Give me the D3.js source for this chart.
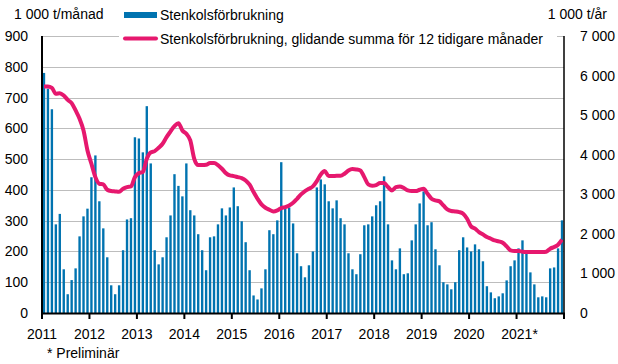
<!DOCTYPE html>
<html>
<head>
<meta charset="utf-8">
<script src="https://cdn.jsdelivr.net/npm/d3@7"></script>
<style>
  body { margin: 0; background: #fff; }
  text { font-family: "Liberation Sans", Arial, sans-serif; font-size: 14px; fill: #000; }
</style>
</head>
<body>
<div id="chart"></div>
<script>
// Monthly hard coal consumption, 1 000 t (Jan 2011 - Dec 2021)
var years = ["2011", "2012", "2013", "2014", "2015", "2016", "2017", "2018", "2019", "2020", "2021*"];

var monthly = [
  780, 729, 662, 288, 322, 142, 61, 107, 145, 249, 314, 339,   // 2011
  441, 512, 363, 275, 181, 90, 61, 90, 204, 304, 308, 571,     // 2012
  567, 522, 672, 486, 204, 158, 181, 246, 317, 451, 413, 379,  // 2013
  486, 334, 317, 256, 204, 139, 246, 249, 288, 340, 317, 343,  // 2014
  408, 347, 298, 230, 139, 57, 44, 80, 142, 269, 256, 301,     // 2015
  490, 340, 343, 291, 194, 152, 116, 155, 200, 408, 434, 418,  // 2016
  363, 340, 366, 308, 288, 194, 142, 126, 191, 285, 288, 314,  // 2017
  350, 363, 444, 288, 171, 142, 210, 126, 129, 236, 288, 356,  // 2018
  395, 285, 295, 207, 155, 100, 93, 77, 100, 204, 246, 213,    // 2019
  200, 223, 207, 168, 87, 67, 48, 54, 64, 106, 152, 171,       // 2020
  210, 236, 194, 132, 93, 51, 54, 51, 145, 148, 210, 301       // 2021
];

// Rolling 12-month sum, 1 000 t/year
var rolling = [
  5724, 5724, 5690, 5539, 5556, 5497, 5387, 5303, 5118, 4907, 4613, 4108,
  3771, 3434, 3266, 3249, 3114, 3081, 3072, 3064, 3140, 3182, 3199, 3434,
  3535, 3561, 3897, 4057, 4091, 4175, 4276, 4444, 4588, 4722, 4798, 4613,
  4529, 4360, 3897, 3737, 3737, 3746, 3788, 3788, 3737, 3645, 3535, 3476,
  3460, 3434, 3409, 3350, 3241, 3056, 2887, 2744, 2660, 2609, 2567, 2593,
  2652, 2677, 2719, 2786, 2887, 2997, 3081, 3140, 3199, 3333, 3502, 3586,
  3460, 3460, 3468, 3468, 3519, 3603, 3636, 3628, 3603, 3434, 3249, 3215,
  3232, 3283, 3283, 3182, 3098, 3182, 3199, 3157, 3098, 3081, 3081, 3114,
  3140, 3013, 2887, 2845, 2820, 2719, 2618, 2576, 2567, 2550, 2508, 2382,
  2189, 2130, 2045, 1987, 1919, 1877, 1835, 1810, 1776, 1684, 1582, 1566,
  1566, 1549, 1540, 1540, 1540, 1540, 1540, 1549, 1625, 1667, 1726, 1852
];

var leftTicks = [0, 100, 200, 300, 400, 500, 600, 700, 800, 900];
var rightTicks = [0, 1000, 2000, 3000, 4000, 5000, 6000, 7000];

var svgWidth = 618;
var svgHeight = 364;

var plot = { left: 42, right: 564, top: 36, bottom: 313 };

var svg = d3.select("#chart")
  .append("svg")
  .attr("width", svgWidth)
  .attr("height", svgHeight);

// Scales
var x = d3.scaleBand()
  .domain(d3.range(monthly.length))
  .range([plot.left, plot.right])
  .paddingInner(0.4)
  .paddingOuter(0.2);

var xYear = d3.scaleLinear()
  .domain([0, years.length])
  .range([plot.left, plot.right]);

var yLeft = d3.scaleLinear().domain([0, 900]).range([plot.bottom, plot.top]);
var yRight = d3.scaleLinear().domain([0, 7000]).range([plot.bottom, plot.top]);

var fmt = function(v) { return d3.format(",")(v).replace(/,/g, " "); };

// Gridlines
svg.append("g")
  .selectAll("line")
  .data(leftTicks.slice(1))
  .enter().append("line")
    .attr("x1", plot.left)
    .attr("x2", plot.right)
    .attr("y1", function(d) { return Math.round(yLeft(d)) + 0.5; })
    .attr("y2", function(d) { return Math.round(yLeft(d)) + 0.5; })
    .attr("stroke", "#bdbdbd")
    .attr("stroke-width", 1);

// Bars
svg.append("g")
  .selectAll("rect")
  .data(monthly)
  .enter().append("rect")
    .attr("x", function(d, i) { return x(i); })
    .attr("y", function(d) { return yLeft(d); })
    .attr("width", x.bandwidth())
    .attr("height", function(d) { return plot.bottom - yLeft(d); })
    .attr("fill", "#0073b0");

// Rolling sum line
var line = d3.line()
  .x(function(d, i) { return x(i) + x.bandwidth() / 2; })
  .y(function(d) { return yRight(d); })
  .curve(d3.curveMonotoneX);

svg.append("path")
  .datum(rolling)
  .attr("d", line)
  .attr("fill", "none")
  .attr("stroke", "#e6186e")
  .attr("stroke-width", 4)
  .attr("stroke-linejoin", "round");

// Axes lines
svg.append("line")
  .attr("x1", plot.left).attr("x2", plot.left)
  .attr("y1", plot.top).attr("y2", plot.bottom + 1)
  .attr("stroke", "#000").attr("stroke-width", 2);
svg.append("line")
  .attr("x1", plot.right).attr("x2", plot.right)
  .attr("y1", plot.top).attr("y2", plot.bottom + 1)
  .attr("stroke", "#000").attr("stroke-width", 1.5);
svg.append("line")
  .attr("x1", plot.left - 1).attr("x2", plot.right + 1)
  .attr("y1", plot.bottom + 0.5).attr("y2", plot.bottom + 0.5)
  .attr("stroke", "#000").attr("stroke-width", 2);

// Year ticks
svg.append("g")
  .selectAll("line")
  .data(d3.range(years.length + 1))
  .enter().append("line")
    .attr("x1", function(d) { return xYear(d); })
    .attr("x2", function(d) { return xYear(d); })
    .attr("y1", plot.bottom)
    .attr("y2", plot.bottom + 6)
    .attr("stroke", "#000")
    .attr("stroke-width", 2);

svg.append("g")
  .selectAll("text")
  .data(years)
  .enter().append("text")
    .attr("x", function(d, i) { return xYear(i) + (d.length > 4 ? 3 : 0); })
    .attr("y", 339)
    .style("text-anchor", "middle")
    .text(function(d) { return d; });

// Left and right tick labels
svg.append("g")
  .selectAll("text")
  .data(leftTicks)
  .enter().append("text")
    .attr("x", 28)
    .attr("y", function(d) { return yLeft(d) + 5; })
    .style("text-anchor", "end")
    .text(function(d) { return d; });

svg.append("g")
  .selectAll("text")
  .data(rightTicks)
  .enter().append("text")
    .attr("x", 580)
    .attr("y", function(d) { return yRight(d) + 5; })
    .style("text-anchor", "start")
    .text(fmt);

// Unit titles
svg.append("text").attr("x", 14).attr("y", 19).text("1 000 t/månad");
svg.append("text").attr("x", 607).attr("y", 19).style("text-anchor", "end").text("1 000 t/år");

// Legend
svg.append("rect")
  .attr("x", 119).attr("y", 27).attr("width", 438).attr("height", 20)
  .attr("fill", "#fff");
svg.append("rect")
  .attr("x", 124).attr("y", 12).attr("width", 33).attr("height", 6)
  .attr("fill", "#0073b0");
svg.append("text").attr("x", 160).attr("y", 20).text("Stenkolsförbrukning");
svg.append("line")
  .attr("x1", 125).attr("x2", 156).attr("y1", 38.5).attr("y2", 38.5)
  .attr("stroke", "#e6186e").attr("stroke-width", 4).attr("stroke-linecap", "round");
svg.append("text").attr("x", 160).attr("y", 44)
  .text("Stenkolsförbrukning, glidande summa för 12 tidigare månader");

// Footnote
svg.append("text").attr("x", 47).attr("y", 358).text("* Preliminär");
</script>
</body>
</html>
